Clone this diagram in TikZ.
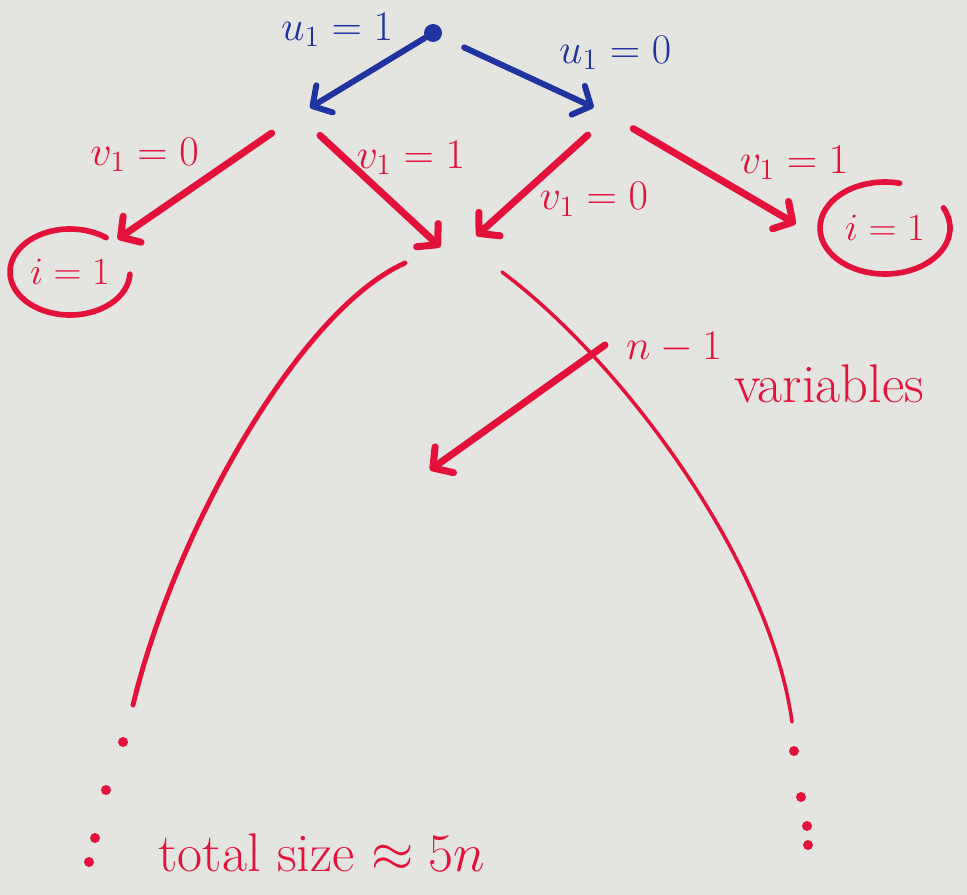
\RequirePackage{fix-cm}
\documentclass[tikz,border=0pt]{standalone}
\usepackage{amsmath}
\usepackage{amssymb}
\usepackage{tikz}
\usetikzlibrary{arrows.meta, shapes.geometric}

\definecolor{board}{RGB}{228,228,225}
\definecolor{redink}{RGB}{228,18,58}
\definecolor{blueink}{RGB}{32,52,160}

\begin{document}
\begin{tikzpicture}[x=0.02cm, y=-0.02cm,
        >={Straight Barb[length=8pt, width=18pt, round]},
        ink/.style={line width=4pt, line cap=round},
        rededge/.style={->, ink, redink},
        blueedge/.style={->, ink, blueink, line width=3.4pt},
        lbl/.style={font=\fontsize{24}{28}\selectfont, inner sep=2pt},
        leaf/.style={ellipse, inner sep=0pt, font=\fontsize{22}{26}\selectfont, text=redink},
        tri/.style={redink, line width=2.8pt, line cap=round}]
    \fill[board] (0,0) rectangle (967,895);

    \node[circle, fill=blueink, minimum size=0.36cm, inner sep=0pt] (root)  at (433,33)  {};
    \coordinate                                                    (nL)    at (298,115);
    \coordinate                                                    (nR)    at (610,115);
    \coordinate                                                    (mid)   at (452,258);
    \node[leaf, minimum width=2.4cm, minimum height=1.72cm]        (leafL) at (70,272)  {$i=1$};
    \node[leaf, minimum width=2.6cm, minimum height=1.84cm]        (leafR) at (885,228) {$i=1$};
    \coordinate                                                    (triL)  at (405,263);
    \coordinate                                                    (triR)  at (502,272);
    \coordinate                                                    (lowL)  at (133,705);
    \coordinate                                                    (lowR)  at (792,722);
    \coordinate                                                    (subA)  at (605,345);
    \coordinate                                                    (subB)  at (430,470);
    \node[lbl, redink, font=\fontsize{31}{36}\selectfont]          (total) at (322,853) {total size $\approx 5n$};

    % open rings round the leaves
    \draw[tri, line width=3.2pt] (leafL.center) ++(3:60 and 43) arc[start angle=3, end angle=307, x radius=60, y radius=43];
    \draw[tri, line width=3.2pt] (leafR.center) ++(-26:65 and 46) arc[start angle=-26, end angle=283, x radius=65, y radius=46];

    \path
        (root)
            edge [blueedge, shorten >=0.28cm] node [lbl, blueink, pos=0.2, above left] {$u_1=1$} (nL)
            edge [blueedge, shorten <=0.5cm, shorten >=0.36cm] node [lbl, blueink, pos=0.66, above right, yshift=7pt] {$u_1=0$} (nR)
        (nL)
            edge [rededge, shorten <=0.64cm, shorten >=0.1cm] node [lbl, redink, pos=0.5, above left] {$v_1=0$} (leafL)
            edge [rededge, shorten <=0.6cm, shorten >=0.32cm] node [lbl, redink, pos=0.3, right=3pt] {$v_1=1$} (mid)
        (nR)
            edge [rededge, shorten <=0.6cm, shorten >=0.66cm] node [lbl, redink, pos=0.59, right=9pt] {$v_1=0$} (mid)
            edge [rededge, shorten <=0.54cm, shorten >=0.6cm] node [lbl, redink, pos=0.58, above right] {$v_1=1$} (leafR.190)
        (subA)
            edge [rededge] node [lbl, redink, at start, anchor=base west, xshift=8pt, yshift=-8.5pt] {$n-1$ \raisebox{-24pt}{\fontsize{31}{36}\selectfont variables}} (subB)
        ;

    % the rest of the tree
    \draw[tri] (triL) .. controls (300,310) and (175,530) .. (lowL);
    \draw[tri, line width=2pt] (triR) .. controls (620,360) and (770,560) .. (lowR);
    \foreach \p in {(123,742), (106,790), (95,838), (89,862), (794,751), (801,797), (807,826), (808,845)}
        \fill[redink] \p circle (0.1cm);
\end{tikzpicture}
\end{document}
